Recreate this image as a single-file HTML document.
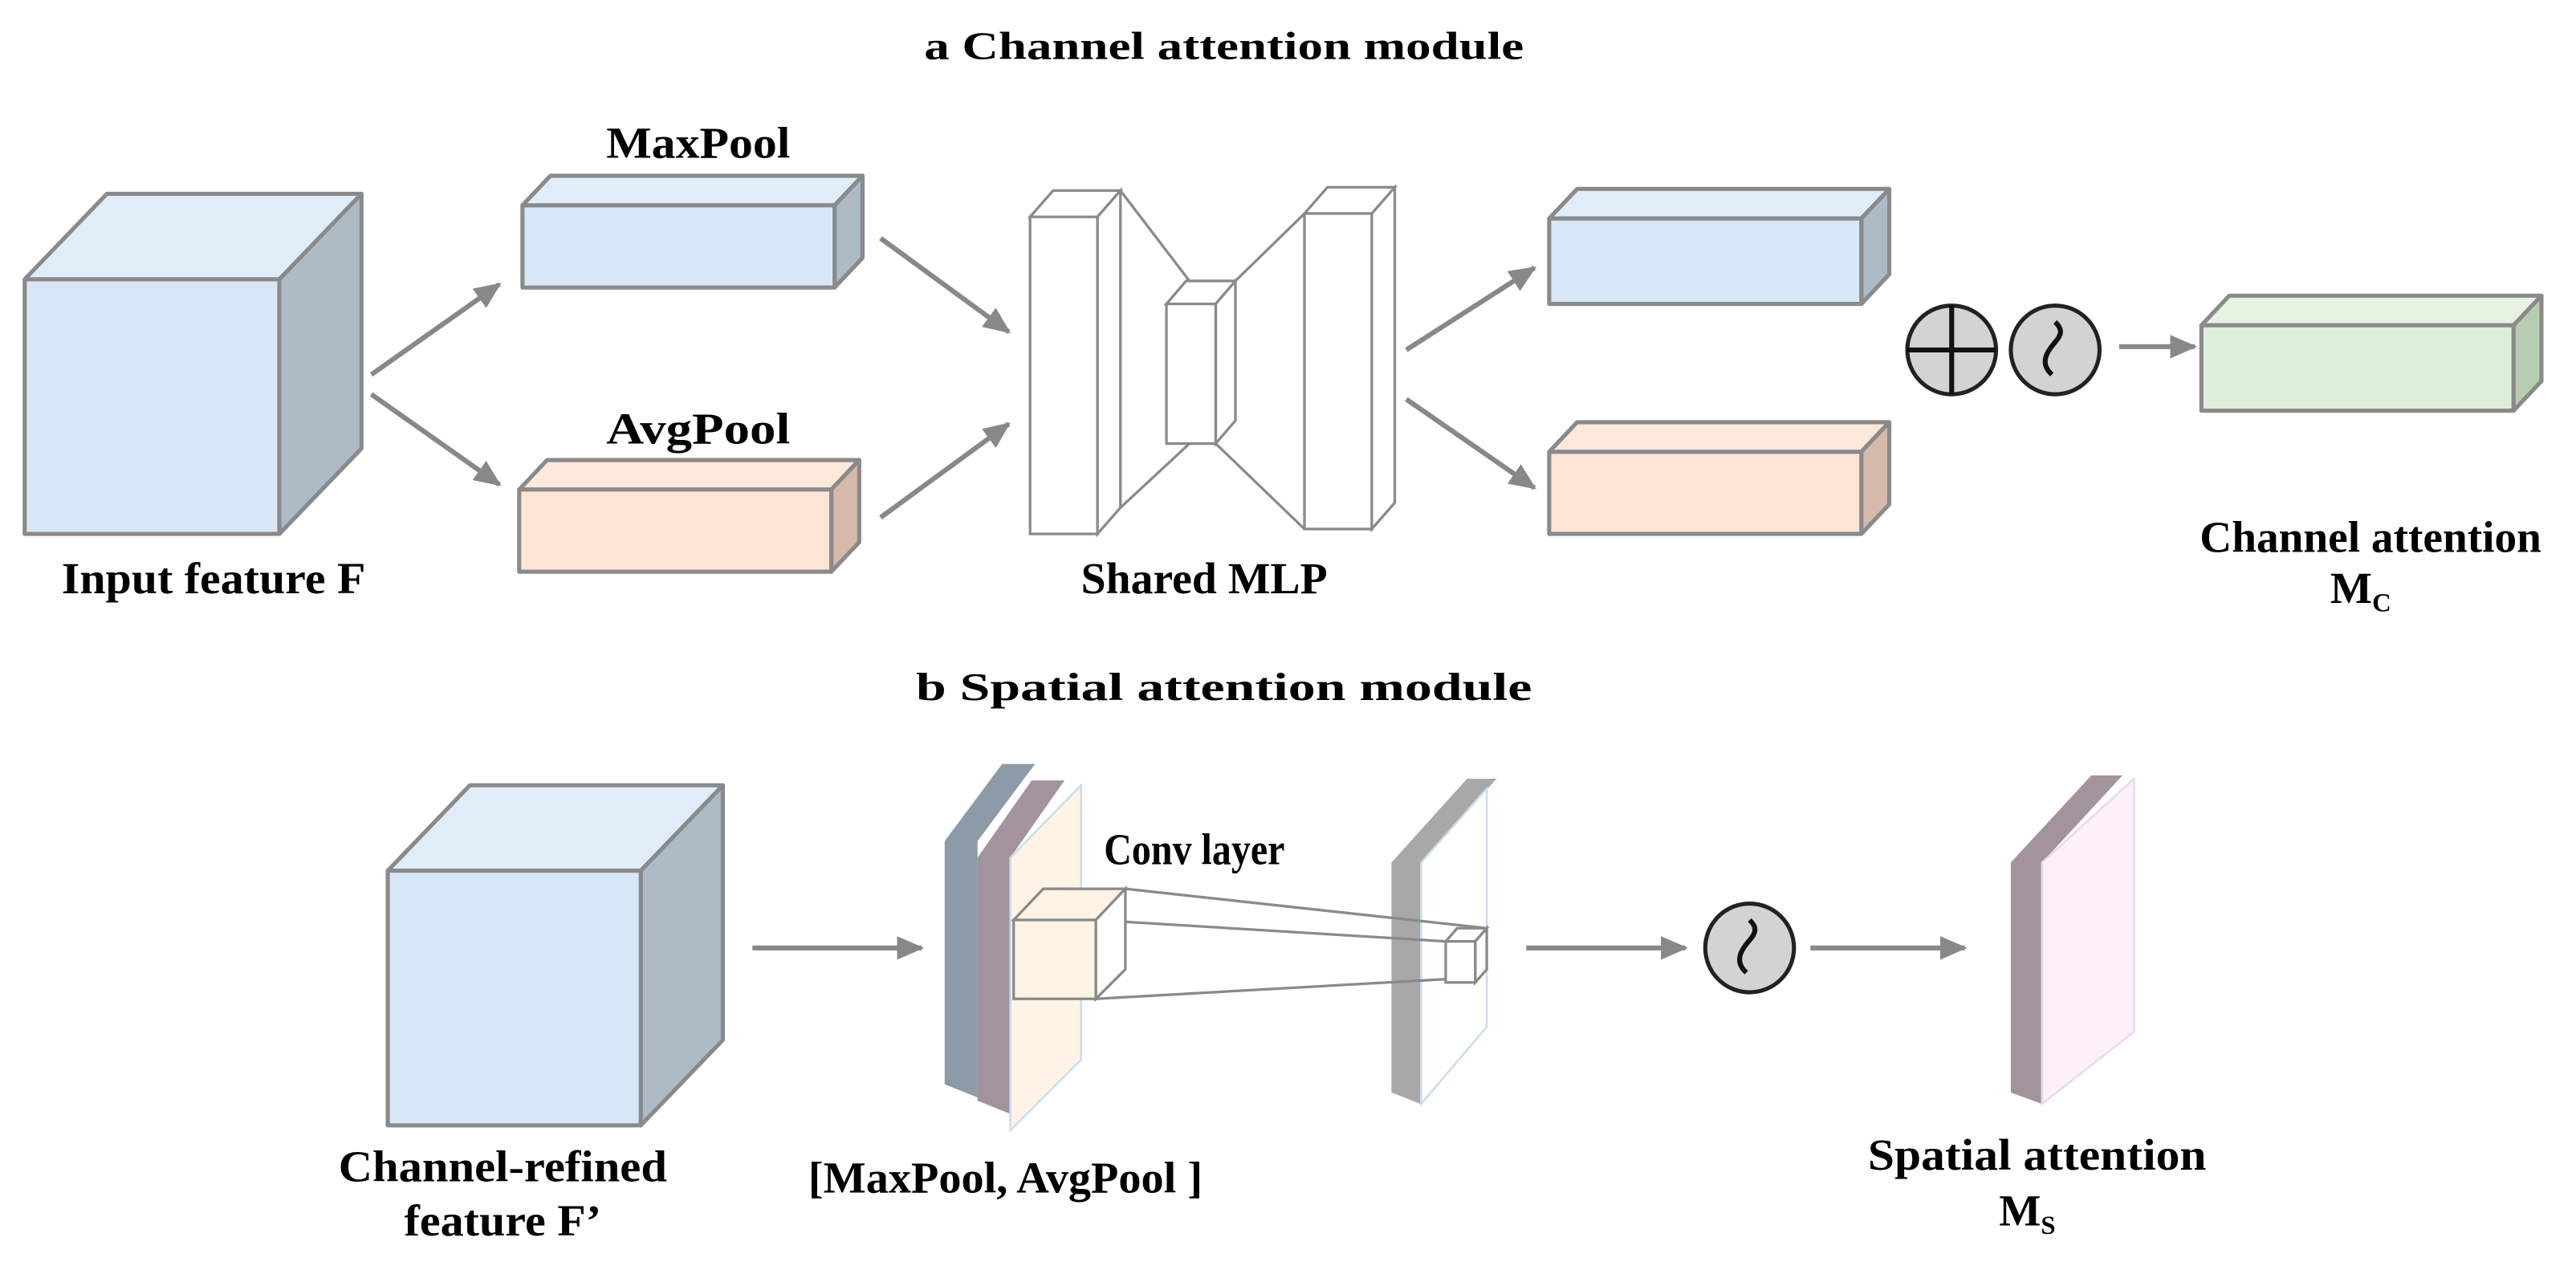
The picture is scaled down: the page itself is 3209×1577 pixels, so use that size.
<!DOCTYPE html>
<html><head><style>html,body{margin:0;padding:0;background:#fff}svg{display:block}</style></head><body>
<svg width="3209" height="1577" viewBox="0 0 1568 770.6" xmlns="http://www.w3.org/2000/svg" font-family="'Liberation Serif',serif" font-weight="bold">
<defs><marker id="ah" markerWidth="6" markerHeight="6" refX="5" refY="3" orient="auto" markerUnits="strokeWidth"><path d="M0,0.6 L5.5,3 L0,5.4 z" fill="#888"/></marker></defs>
<g stroke="#8a8a8a" stroke-width="2.5" stroke-linejoin="round">
<polygon points="15,170 65,118 220,118 170,170" fill="#e0edf8"/>
<polygon points="170,170 220,118 220,273 170,325" fill="#adbbc7"/>
<rect x="15" y="170" width="155" height="155" fill="#d7e7f5"/>
<polygon points="318,125 335,107 525,107 508,125" fill="#e0edf8"/>
<polygon points="508,125 525,107 525,157 508,175" fill="#adbbc7"/>
<rect x="318" y="125" width="190" height="50" fill="#d7e7f5"/>
<polygon points="316,298 333,280 523,280 506,298" fill="#fde8da"/>
<polygon points="506,298 523,280 523,330 506,348" fill="#d5b9aa"/>
<rect x="316" y="298" width="190" height="50" fill="#fde5d6"/>
<polygon points="943,133 960,115 1150,115 1133,133" fill="#e0edf8"/>
<polygon points="1133,133 1150,115 1150,167 1133,185" fill="#adbbc7"/>
<rect x="943" y="133" width="190" height="52" fill="#d7e7f5"/>
<polygon points="943,275 960,257 1150,257 1133,275" fill="#fde8da"/>
<polygon points="1133,275 1150,257 1150,307 1133,325" fill="#d5b9aa"/>
<rect x="943" y="275" width="190" height="50" fill="#fde5d6"/>
<polygon points="1340,198 1357,180 1547,180 1530,198" fill="#e6f3e2"/>
<polygon points="1530,198 1547,180 1547,232 1530,250" fill="#b8ccb2"/>
<rect x="1340" y="198" width="190" height="52" fill="#ddefd8"/>
</g>
<g stroke="#8a8a8a" stroke-width="1.6" fill="#fff">
<line x1="682" y1="116" x2="724" y2="171"/><line x1="794" y1="130" x2="752" y2="171"/>
<line x1="682" y1="309" x2="724" y2="270"/><line x1="794" y1="322" x2="740" y2="270"/>
<polygon points="627,132 641,116 682,116 668,132"/><polygon points="668,132 682,116 682,309 668,325"/><rect x="627" y="132" width="41" height="193"/>
<polygon points="710,185 722,171 752,171 740,185"/><polygon points="740,185 752,171 752,256 740,270"/><rect x="710" y="185" width="30" height="85"/>
<polygon points="794,130 808,114 849,114 835,130"/><polygon points="835,130 849,114 849,306 835,322"/><rect x="794" y="130" width="41" height="192"/>
</g>
<g stroke="#888" stroke-width="3" marker-end="url(#ah)" fill="none">
<line x1="226" y1="228" x2="304" y2="173"/><line x1="226" y1="240" x2="304" y2="295"/>
<line x1="536" y1="145" x2="614" y2="202"/><line x1="536" y1="315" x2="614" y2="258"/>
<line x1="856" y1="213" x2="934" y2="163"/><line x1="856" y1="243" x2="934" y2="297"/>
<line x1="1290" y1="211" x2="1336" y2="211"/>
<line x1="458" y1="577" x2="561" y2="577"/>
<line x1="929" y1="577" x2="1026" y2="577"/>
<line x1="1102" y1="577" x2="1196" y2="577"/>
</g>
<g stroke="#222" stroke-width="2.5" fill="#d3d3d3">
<circle cx="1188" cy="213" r="27"/><circle cx="1251" cy="213" r="27"/><circle cx="1065" cy="577" r="27"/>
</g>
<g stroke="#111" stroke-width="3" fill="none">
<line x1="1161" y1="213" x2="1215" y2="213"/><line x1="1188" y1="186" x2="1188" y2="240"/>
<path d="M1249,228 C1240,220 1248,212 1252,207 C1256,202 1254,199 1251,196"/>
<path d="M1063,592 C1054,584 1062,576 1066,571 C1070,566 1068,563 1065,560"/>
</g>
<g stroke="#8a8a8a" stroke-width="2.5" stroke-linejoin="round">
<polygon points="236,530 286,478 440,478 390,530" fill="#e0edf8"/>
<polygon points="390,530 440,478 440,633 390,685" fill="#adbbc7"/>
<rect x="236" y="530" width="154" height="155" fill="#d7e7f5"/>
</g>
<polygon points="575,512 610,465 630,465 595,512 595,668 575,660" fill="#8c9ba7"/>
<polygon points="595,522 628,475 648,475 615,522 615,678 595,670" fill="#a3939c"/>
<polygon points="615,522 658,478 658,645 615,688" fill="#fff3e5" stroke="#c8dcef" stroke-width="1.2"/>
<polygon points="847,525 893,474 911,474 865,525 865,672 847,665" fill="#a8a8a8"/>
<polygon points="865,525 905,480 905,625 865,672" fill="#fff" stroke="#c8dcef" stroke-width="1.2"/>
<polygon points="1224,525 1273,472 1292,472 1243,525 1243,672 1224,665" fill="#a3939c"/>
<polygon points="1243,525 1299,474 1299,628 1243,672" fill="#fdf0fb" stroke="#e8d8ef" stroke-width="1.2"/>
<g stroke="#8a8a8a" stroke-width="1.6" fill="none">
<line x1="685" y1="541" x2="905" y2="565"/><line x1="667" y1="560" x2="880" y2="573"/><line x1="667" y1="608" x2="880" y2="596"/>
<polygon points="617,560 635,541 685,541 667,560" fill="#fff3e5"/>
<polygon points="667,560 685,541 685,590 667,608" fill="#fff"/>
<rect x="617" y="560" width="50" height="48" fill="#fff3e5"/>
<polygon points="880,573 887,565 905,565 898,573" fill="#fff"/>
<polygon points="898,573 905,565 905,590 898,598" fill="#fff"/>
<rect x="880" y="573" width="18" height="25" fill="#fff"/>
</g>
<g font-size="27" fill="#000" text-anchor="middle">
<text x="745" y="36" font-size="24" textLength="365" lengthAdjust="spacingAndGlyphs">a Channel attention module</text>
<text x="425" y="96" textLength="112" lengthAdjust="spacingAndGlyphs">MaxPool</text>
<text x="425" y="270" textLength="112" lengthAdjust="spacingAndGlyphs">AvgPool</text>
<text x="130" y="361" textLength="185" lengthAdjust="spacingAndGlyphs">Input feature F</text>
<text x="733" y="361" textLength="150" lengthAdjust="spacingAndGlyphs">Shared MLP</text>
<text x="1443" y="336" textLength="208" lengthAdjust="spacingAndGlyphs">Channel attention</text>
<text x="1437" y="367">M<tspan font-size="16" dy="5">C</tspan></text>
<text x="745" y="426" font-size="24" textLength="375" lengthAdjust="spacingAndGlyphs">b Spatial attention module</text>
<text x="727" y="526" textLength="110" lengthAdjust="spacingAndGlyphs">Conv layer</text>
<text x="306" y="719" textLength="200" lengthAdjust="spacingAndGlyphs">Channel-refined</text>
<text x="306" y="752" textLength="120" lengthAdjust="spacingAndGlyphs">feature F’</text>
<text x="612" y="726" textLength="240" lengthAdjust="spacingAndGlyphs">[MaxPool, AvgPool ]</text>
<text x="1240" y="712" textLength="206" lengthAdjust="spacingAndGlyphs">Spatial attention</text>
<text x="1234" y="746">M<tspan font-size="16" dy="5">S</tspan></text>
</g>
</svg>
</body></html>
